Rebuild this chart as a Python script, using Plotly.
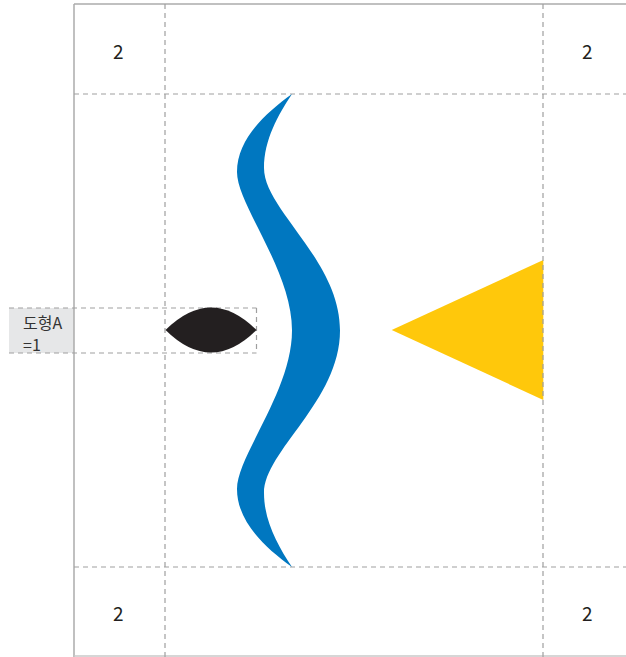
import plotly.graph_objects as go

# ---- data ----
corner_labels = ["2", "2", "2", "2"]
corner_x = [118, 587, 118, 587]
corner_y = [50, 50, 612, 612]

grid_v = [165, 543]          # dashed vertical guides
grid_h = [94, 567]           # dashed horizontal guides

label_lines = ["도형A", "=1"]

# blue S-curve: top half control points (cubic bezier chains), mirrored for bottom half
blue_left_top = [(292, 94), (264, 114), (237, 140), (237, 172), (237, 205), (292, 270), (292, 330.5)]
blue_right_top = [(292, 94), (278, 115), (264, 140), (264, 168), (264, 210), (340, 260), (340, 330.5)]
mirror_y = 330.5

# black lens
lens_left = (165.5, 330)
lens_right = (256.5, 330)
lens_half_h = 22.5

# yellow triangle
tri_x = [391.7, 543.3, 543.3]
tri_y = [330, 260, 400]

W, H = 626, 657
fig = go.Figure()
fig.add_trace(go.Scatter(x=[0, W], y=[0, H], mode="markers", marker=dict(opacity=0), hoverinfo="skip", showlegend=False))

shapes = []
dash_col = "#9f9f9f"
dash = "5px,4px"

# label gray box
shapes.append(dict(type="rect", xref="x", yref="y", x0=9, x1=74, y0=308, y1=353,
                   fillcolor="#e6e7e8", line=dict(width=0), layer="below"))

# solid frame
frame_col = "#ababab"
shapes.append(dict(type="line", xref="x", yref="y", x0=74, x1=74, y0=4, y1=H, line=dict(color=frame_col, width=1.5)))
shapes.append(dict(type="line", xref="x", yref="y", x0=74, x1=W, y0=4, y1=4, line=dict(color=frame_col, width=1.5)))
shapes.append(dict(type="line", xref="x", yref="y", x0=74, x1=W, y0=656, y1=656, line=dict(color="#c8c8c8", width=1.5)))

# dashed guides
for gx in grid_v:
    shapes.append(dict(type="line", xref="x", yref="y", x0=gx, x1=gx, y0=4, y1=H, line=dict(color=dash_col, width=1.2, dash=dash)))
for gy in grid_h:
    shapes.append(dict(type="line", xref="x", yref="y", x0=74, x1=W, y0=gy, y1=gy, line=dict(color=dash_col, width=1.2, dash=dash)))

# label dashed box
shapes.append(dict(type="line", xref="x", yref="y", x0=9, x1=256.5, y0=308, y1=308, line=dict(color=dash_col, width=1.2, dash=dash)))
shapes.append(dict(type="line", xref="x", yref="y", x0=9, x1=256.5, y0=353, y1=353, line=dict(color=dash_col, width=1.2, dash=dash)))
shapes.append(dict(type="line", xref="x", yref="y", x0=256.5, x1=256.5, y0=308, y1=353, line=dict(color=dash_col, width=1.2, dash=dash)))


def m(p):
    return (p[0], 2 * mirror_y - p[1])


def pt(p):
    return f"{p[0]},{p[1]}"


L = blue_left_top
R = blue_right_top
path = (f"M {pt(L[0])} C {pt(L[1])} {pt(L[2])} {pt(L[3])} C {pt(L[4])} {pt(L[5])} {pt(L[6])} "
        f"C {pt(m(L[5]))} {pt(m(L[4]))} {pt(m(L[3]))} C {pt(m(L[2]))} {pt(m(L[1]))} {pt(m(L[0]))} "
        f"C {pt(m(R[1]))} {pt(m(R[2]))} {pt(m(R[3]))} C {pt(m(R[4]))} {pt(m(R[5]))} {pt(R[6])} "
        f"C {pt(R[5])} {pt(R[4])} {pt(R[3])} C {pt(R[2])} {pt(R[1])} {pt(R[0])} Z")
shapes.append(dict(type="path", xref="x", yref="y", path=path, fillcolor="#0077c0", line=dict(width=0)))

# lens
lx0, ly = lens_left
lx1, _ = lens_right
cx = (lx0 + lx1) / 2
lens_path = (f"M {lx0},{ly} Q {cx},{ly - 2 * lens_half_h} {lx1},{ly} "
             f"Q {cx},{ly + 2 * lens_half_h} {lx0},{ly} Z")
shapes.append(dict(type="path", xref="x", yref="y", path=lens_path, fillcolor="#231f20", line=dict(width=0)))

# triangle
fig.add_trace(go.Scatter(x=tri_x + [tri_x[0]], y=tri_y + [tri_y[0]], mode="lines", fill="toself",
                         fillcolor="#ffc80b", line=dict(width=0, color="#ffc80b"), hoverinfo="skip", showlegend=False))

annotations = []
for t, x, y in zip(corner_labels, corner_x, corner_y):
    annotations.append(dict(x=x, y=y, xref="x", yref="y", text=t, showarrow=False,
                            font=dict(family="Noto Sans CJK KR", size=19, color="#231f20")))
annotations.append(dict(x=21, y=322, xref="x", yref="y", text=label_lines[0], showarrow=False, xanchor="left",
                        font=dict(family="Noto Sans CJK KR", size=16, color="#333333")))
annotations.append(dict(x=21, y=344, xref="x", yref="y", text=label_lines[1], showarrow=False, xanchor="left",
                        font=dict(family="Noto Sans CJK KR", size=16, color="#333333")))

fig.update_layout(
    width=W, height=H, autosize=False,
    margin=dict(l=0, r=0, t=0, b=0, pad=0),
    paper_bgcolor="white", plot_bgcolor="white",
    xaxis=dict(range=[0, W], visible=False, fixedrange=True),
    yaxis=dict(range=[H, 0], visible=False, fixedrange=True),
    shapes=shapes, annotations=annotations, showlegend=False,
)
fig.write_html("out.html", config={"displayModeBar": False, "staticPlot": True},
               post_script="document.body.style.margin='0px';document.body.style.overflow='hidden';")
